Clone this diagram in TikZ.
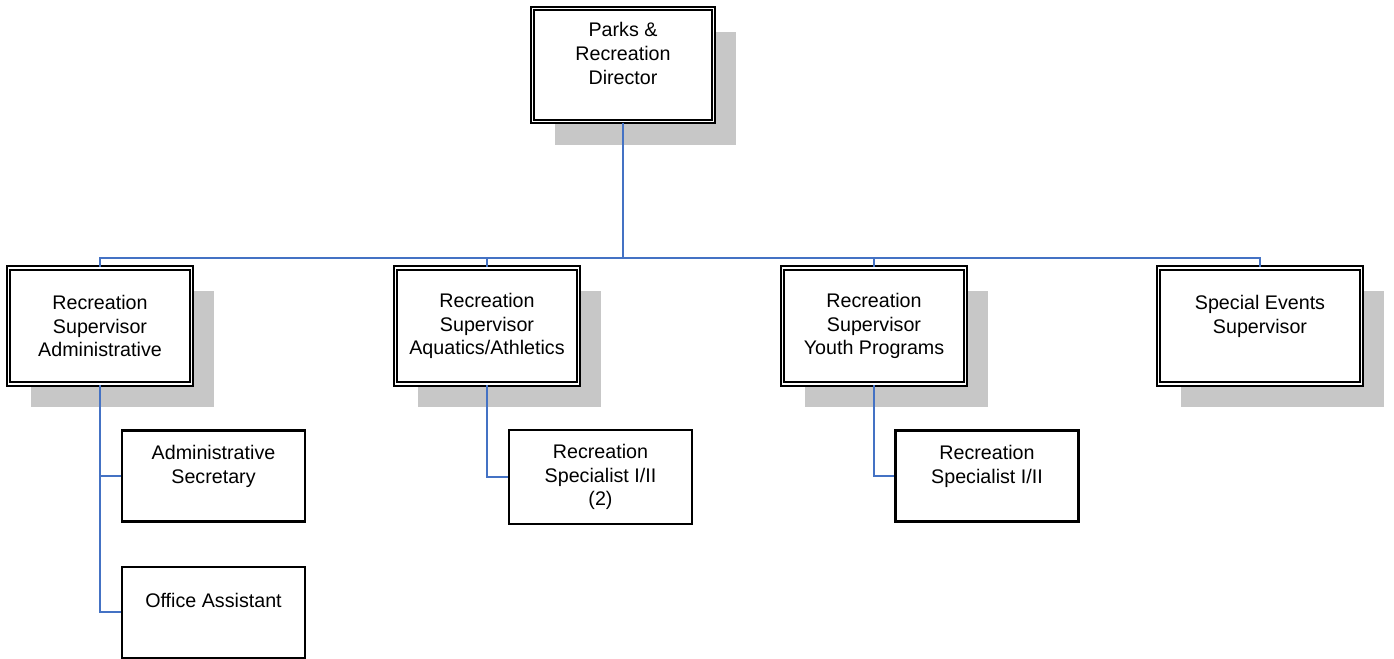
\documentclass[tikz,border=0pt]{standalone}
\usepackage{fontspec}
\setmainfont{Liberation Sans}
\usetikzlibrary{shadows,positioning}
\definecolor{linkblue}{RGB}{68,114,196}
\tikzset{
  post/.style={draw,fill=white,align=center,inner sep=2pt,minimum width=3.66cm,font=\fontsize{11.2}{13.6}\selectfont},
  head/.style={post,double,line width=1.15pt,double distance=1pt,minimum height=2.32cm,
    drop shadow={shadow xshift=0.44cm,shadow yshift=-0.46cm,fill=black!22,opacity=1}},
  staff/.style={post,line width=1.2pt,minimum height=1.82cm},
  link/.style={draw=linkblue,line width=1.1pt}
}
\begin{document}
\begin{tikzpicture}
\useasboundingbox (0,0) rectangle (27.88,-13.16);
\node[head,minimum width=3.62cm,minimum height=2.26cm] (dir) at (12.46,-1.30) {Parks \&\\Recreation\\Director\\\mbox{}};
\coordinate (bus) at (0,-5.16);
% supervisors
\node[head] (admin) at (2.00,-6.52) {Recreation\\Supervisor\\Administrative};
\node[head] (aqua) at (9.74,-6.52) {Recreation\\Supervisor\\Aquatics/Athletics};
\node[head] (youth) at (17.48,-6.52) {Recreation\\Supervisor\\Youth Programs};
\node[head,minimum width=4.06cm] (events) at (25.20,-6.52) {Special Events\\Supervisor\\\mbox{}};
% staff
\node[staff] (sec) at (4.27,-9.52) {Administrative\\Secretary\\\mbox{}};
\node[staff,below=0.86cm of sec] (office) {Office Assistant\\\mbox{}};
\node[staff,minimum height=1.88cm] (spec) at (12.01,-9.54) {Recreation\\Specialist I/II\\(2)};
\node[staff] (yspec) at (19.74,-9.52) {Recreation\\Specialist I/II\\\mbox{}};
% lines
\draw[link] (dir.south) -- (dir.south |- bus);
\draw[link] (admin.north) -- (admin.north |- bus) -- (events.north |- bus) -- (events.north);
\draw[link] (aqua.north) -- (aqua.north |- bus);
\draw[link] (youth.north) -- (youth.north |- bus);
\draw[link] (admin.south) |- (sec.west);
\draw[link] (admin.south) |- (office.west);
\draw[link] (aqua.south) |- (spec.west);
\draw[link] (youth.south) |- (yspec.west);
\end{tikzpicture}
\end{document}
